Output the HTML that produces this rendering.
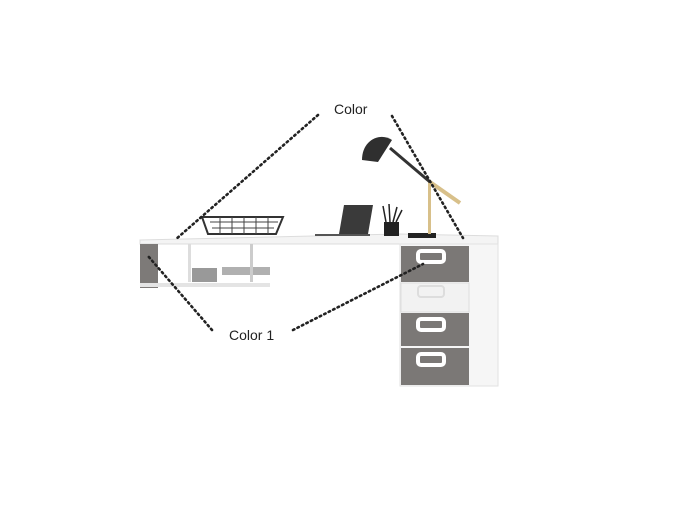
<!DOCTYPE html>
<html><head><style>body{margin:0;background:#fff}svg{display:block}</style></head><body>
<svg width="700" height="525" viewBox="0 0 700 525" xmlns="http://www.w3.org/2000/svg" font-family="Liberation Sans, sans-serif">
<rect width="700" height="525" fill="#fff"/>
<polygon points="140,240 400,234 498,236 498,244 140,244" fill="#f4f4f4" stroke="#ddd" stroke-width="1"/>
<rect x="140" y="244" width="18" height="44" fill="#7d7a78"/>
<rect x="140" y="283" width="130" height="4" fill="#e4e4e4"/>
<rect x="188" y="244" width="3" height="38" fill="#ddd"/>
<rect x="192" y="268" width="25" height="14" fill="#999"/>
<rect x="222" y="267" width="48" height="8" fill="#b0b0b0"/>
<rect x="250" y="244" width="3" height="38" fill="#ccc"/>
<polygon points="202,217 283,217 276,234 208,234" fill="none" stroke="#333" stroke-width="2"/>
<path d="M210,222h68M212,228h62M220,217v17M232,217v17M244,217v17M256,217v17M268,217v17" stroke="#444" stroke-width="1"/>
<polygon points="344,205 373,205 368,234 339,234" fill="#3a3a3a"/>
<rect x="315" y="234" width="55" height="2" fill="#555"/>
<rect x="384" y="222" width="15" height="14" fill="#222"/>
<path d="M386,222l-3,-16M390,222l-1,-18M393,222l4,-15M396,222l6,-12" stroke="#222" stroke-width="1.5"/>
<rect x="408" y="233" width="28" height="5" fill="#222"/>
<rect x="428" y="180" width="3" height="54" fill="#d8c08a"/>
<line x1="430" y1="182" x2="460" y2="203" stroke="#d8c08a" stroke-width="4"/>
<line x1="430" y1="182" x2="390" y2="148" stroke="#333" stroke-width="3"/>
<path d="M362,160 C362,140 380,132 392,140 L378,162 Z" fill="#2f2f2f"/>
<rect x="400" y="244" width="98" height="142" fill="#f6f6f6" stroke="#e2e2e2"/>
<rect x="401" y="246" width="68" height="36" fill="#7b7876"/>
<rect x="401" y="283" width="68" height="29" fill="#f2f2f2" stroke="#ddd"/>
<rect x="401" y="313" width="68" height="33" fill="#7b7876"/>
<rect x="401" y="348" width="68" height="37" fill="#7b7876"/>
<g fill="none" stroke="#fff" stroke-width="4">
<rect x="418" y="251" width="26" height="11" rx="3"/>
<rect x="418" y="319" width="26" height="11" rx="3"/>
<rect x="418" y="354" width="26" height="11" rx="3"/>
</g>
<rect x="418" y="286" width="26" height="11" rx="3" fill="none" stroke="#ddd" stroke-width="2"/>
<g stroke="#222" stroke-width="2.6" stroke-dasharray="1.5 3.5" stroke-linecap="round" fill="none">
<line x1="318" y1="115" x2="175" y2="240"/>
<line x1="392" y1="116" x2="463" y2="238"/>
<line x1="212" y1="330" x2="148" y2="256"/>
<line x1="293" y1="330" x2="423" y2="264"/>
</g>
<text x="334" y="114" font-size="14" fill="#222">Color</text>
<text x="229" y="340" font-size="14" fill="#222">Color 1</text>
</svg>
</body></html>
